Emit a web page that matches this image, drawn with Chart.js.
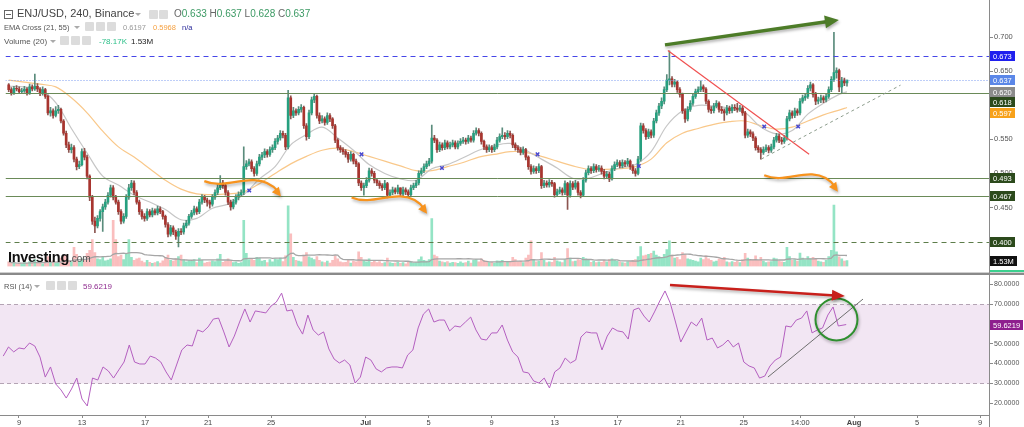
<!DOCTYPE html>
<html><head><meta charset="utf-8">
<script src="https://cdn.jsdelivr.net/npm/chart.js@4.4.1/dist/chart.umd.min.js"></script>
<style>
html,body{margin:0;padding:0;background:#fff;width:1024px;height:427px;overflow:hidden;font-family:"Liberation Sans",Arial,sans-serif;}
canvas{position:absolute;left:0;}
#c1{top:0;}
#c2{top:275px;}
.t{position:absolute;white-space:nowrap;line-height:1;}
.ic{position:absolute;width:9px;height:9px;background:#dcdcdc;border-radius:1px;}
.tri{position:absolute;width:0;height:0;border-left:3px solid transparent;border-right:3px solid transparent;border-top:3px solid #aaa;}
.box{position:absolute;width:7px;height:7px;border:1px solid #666;}
.box:after{content:"";position:absolute;left:1px;top:3px;width:5px;height:1px;background:#666;}
</style></head><body>
<canvas id="c1" width="1024" height="272"></canvas>
<div style="position:absolute;left:0;top:272px;width:1024px;height:1px;background:#cfcfcf"></div>
<div style="position:absolute;left:0;top:273px;width:1024px;height:2px;background:#8a8a8a"></div>
<canvas id="c2" width="1024" height="152"></canvas>
<div style="position:absolute;left:989px;top:0;width:1px;height:427px;background:#8a8a8a"></div>

<div class="box" style="left:4px;top:10px"></div>
<div class="t" style="left:17px;top:8px;font-size:11px;color:#444">ENJ/USD, 240, Binance</div>
<div class="tri" style="left:135px;top:13px"></div>
<div class="ic" style="left:149px;top:10px"></div><div class="ic" style="left:159px;top:10px"></div>
<div class="t" style="left:174px;top:8.5px;font-size:10px;color:#666" id="ohlc"></div>

<div class="t" style="left:4px;top:23.5px;font-size:7.5px;color:#555">EMA Cross (21, 55)</div>
<div class="tri" style="left:74px;top:26px"></div>
<div class="ic" style="left:85px;top:22px"></div><div class="ic" style="left:96px;top:22px"></div><div class="ic" style="left:107px;top:22px"></div>
<div class="t" style="left:123px;top:23.5px;font-size:7.5px;color:#999" id="e21"></div>
<div class="t" style="left:153px;top:23.5px;font-size:7.5px;color:#f5a040" id="e55"></div>
<div class="t" style="left:182px;top:23.5px;font-size:7.5px;color:#2a2a9a">n/a</div>

<div class="t" style="left:4px;top:37.5px;font-size:8px;color:#555">Volume (20)</div>
<div class="tri" style="left:50px;top:40px"></div>
<div class="ic" style="left:60px;top:36px"></div><div class="ic" style="left:71px;top:36px"></div><div class="ic" style="left:82px;top:36px"></div>
<div class="t" style="left:99px;top:37.5px;font-size:8px;color:#2bbf88">-78.17K</div>
<div class="t" style="left:131px;top:37.5px;font-size:8px;color:#222" id="vlast"></div>

<div class="t" style="left:8px;top:250px;font-size:14.5px;font-weight:bold;color:#111;letter-spacing:-0.3px">Investing<span style="font-size:10px;font-weight:normal;color:#555;letter-spacing:0">.com</span></div>

<div class="t" style="left:4px;top:282.5px;font-size:7.5px;color:#555">RSI (14)</div>
<div class="tri" style="left:34px;top:285px"></div>
<div class="ic" style="left:46px;top:281px"></div><div class="ic" style="left:57px;top:281px"></div><div class="ic" style="left:68px;top:281px"></div>
<div class="t" style="left:83px;top:282.5px;font-size:8px;color:#8e2b8e" id="rlast"></div>

<script>
// ---------------- DATA ----------------
const firstOpen = 0.630;
const closes = [
0.623,0.618,0.625,0.624,0.620,0.621,0.624,0.618,0.627,0.624,
0.628,0.624,0.617,0.623,0.613,0.589,0.592,0.585,0.592,0.594,
0.577,0.559,0.542,0.535,0.538,0.521,0.510,0.513,0.532,0.524,
0.496,0.465,0.430,0.423,0.434,0.444,0.451,0.458,0.468,0.479,
0.465,0.458,0.444,0.430,0.437,0.465,0.479,0.486,0.472,0.458,
0.444,0.437,0.434,0.444,0.439,0.445,0.442,0.448,0.444,0.437,
0.425,0.411,0.420,0.414,0.408,0.415,0.414,0.423,0.427,0.437,
0.442,0.448,0.444,0.458,0.465,0.461,0.458,0.455,0.465,0.472,
0.479,0.486,0.482,0.472,0.458,0.451,0.458,0.465,0.469,0.472,
0.510,0.514,0.517,0.507,0.500,0.514,0.524,0.527,0.532,0.528,
0.535,0.538,0.547,0.552,0.559,0.556,0.539,0.611,0.585,0.592,
0.589,0.594,0.597,0.570,0.554,0.589,0.608,0.613,0.585,0.577,
0.580,0.575,0.585,0.580,0.570,0.549,0.538,0.535,0.532,0.528,
0.521,0.528,0.518,0.514,0.486,0.479,0.482,0.490,0.504,0.500,
0.490,0.486,0.482,0.479,0.485,0.468,0.472,0.476,0.473,0.479,
0.470,0.476,0.473,0.469,0.479,0.482,0.486,0.500,0.504,
0.510,0.514,0.518,0.552,0.549,0.535,0.542,0.538,0.545,0.539,
0.542,0.545,0.539,0.544,0.547,0.549,0.547,0.552,0.549,0.559,
0.563,0.559,0.547,0.539,0.535,0.538,0.535,0.539,0.549,0.554,
0.556,0.554,0.559,0.556,0.542,0.538,0.535,0.531,0.535,0.524,
0.510,0.503,0.507,0.504,0.510,0.482,0.486,0.483,0.487,0.485,
0.469,0.473,0.476,0.472,0.485,0.468,0.485,0.480,0.486,0.472,
0.468,0.490,0.501,0.507,0.504,0.510,0.506,0.508,0.503,0.496,
0.499,0.492,0.507,0.513,0.516,0.511,0.516,0.514,0.518,0.510,
0.504,0.500,0.521,0.570,0.563,0.554,0.561,0.556,0.577,0.589,
0.599,0.606,0.623,0.637,0.639,0.631,0.634,0.623,0.616,0.592,
0.580,0.594,0.603,0.613,0.620,0.623,0.627,0.624,0.606,0.594,
0.592,0.599,0.603,0.594,0.592,0.589,0.596,0.592,0.597,0.596,
0.594,0.596,0.589,0.556,0.561,0.558,0.552,0.538,0.535,
0.531,0.535,0.538,0.534,0.539,0.549,0.555,0.549,0.547,0.552,
0.580,0.589,0.585,0.592,0.589,0.606,0.611,0.613,0.625,0.630,
0.616,0.606,0.608,0.611,0.608,0.613,0.623,0.638,0.648,0.651,
0.627,0.637,0.633,0.637];
const highs = [
0.632,0.626,0.628,0.629,0.627,0.625,0.628,0.626,0.631,0.630,
0.646,0.632,0.626,0.627,0.625,0.615,0.597,0.595,0.598,0.600,
0.596,0.579,0.562,0.546,0.543,0.541,0.524,0.518,0.536,0.537,
0.527,0.498,0.468,0.436,0.438,0.447,0.455,0.462,0.472,0.483,
0.482,0.468,0.461,0.447,0.441,0.469,0.484,0.490,0.489,0.475,
0.461,0.447,0.441,0.448,0.447,0.449,0.448,0.452,0.451,0.446,
0.439,0.428,0.424,0.423,0.417,0.419,0.419,0.427,0.431,0.440,
0.446,0.452,0.451,0.462,0.469,0.468,0.464,0.461,0.469,0.476,
0.484,0.497,0.490,0.485,0.475,0.461,0.462,0.469,0.473,0.476,
0.539,0.519,0.521,0.520,0.510,0.518,0.528,0.531,0.536,0.535,
0.539,0.542,0.551,0.556,0.563,0.562,0.559,0.622,0.614,0.597,
0.595,0.598,0.601,0.599,0.573,0.593,0.612,0.617,0.615,0.589,
0.585,0.583,0.589,0.588,0.582,0.572,0.551,0.541,0.538,0.535,
0.531,0.532,0.530,0.521,0.516,0.489,0.486,0.494,0.508,0.507,
0.503,0.493,0.489,0.485,0.490,0.487,0.476,0.480,0.479,0.483,
0.475,0.480,0.479,0.476,0.483,0.486,0.490,0.504,0.508,
0.514,0.518,0.522,0.571,0.556,0.551,0.546,0.545,0.549,0.548,
0.546,0.549,0.548,0.548,0.551,0.553,0.552,0.556,0.555,0.563,
0.567,0.566,0.561,0.549,0.542,0.542,0.541,0.543,0.553,0.558,
0.567,0.560,0.563,0.562,0.558,0.545,0.541,0.538,0.539,0.537,
0.526,0.513,0.511,0.510,0.514,0.512,0.490,0.489,0.491,0.490,
0.487,0.477,0.480,0.479,0.489,0.487,0.489,0.488,0.490,0.488,
0.475,0.494,0.505,0.511,0.510,0.514,0.513,0.512,0.511,0.506,
0.503,0.502,0.511,0.517,0.520,0.519,0.520,0.519,0.522,0.520,
0.513,0.507,0.525,0.574,0.573,0.566,0.565,0.564,0.581,0.593,
0.603,0.611,0.627,0.645,0.680,0.642,0.638,0.636,0.626,0.618,
0.595,0.598,0.607,0.617,0.624,0.627,0.636,0.630,0.626,0.608,
0.598,0.603,0.607,0.605,0.598,0.595,0.600,0.599,0.601,0.601,
0.603,0.600,0.599,0.591,0.565,0.564,0.561,0.554,0.541,
0.538,0.539,0.542,0.541,0.543,0.553,0.559,0.558,0.553,0.556,
0.584,0.593,0.592,0.596,0.595,0.610,0.615,0.617,0.629,0.634,
0.632,0.619,0.612,0.615,0.614,0.617,0.627,0.642,0.707,0.655,
0.653,0.641,0.640,0.637];
const lows = [
0.620,0.615,0.616,0.621,0.617,0.618,0.619,0.615,0.616,0.621,
0.622,0.620,0.614,0.615,0.610,0.586,0.584,0.581,0.583,0.588,
0.574,0.556,0.538,0.531,0.530,0.517,0.505,0.507,0.511,0.520,
0.492,0.460,0.425,0.413,0.420,0.430,0.415,0.447,0.455,0.465,
0.461,0.455,0.440,0.426,0.427,0.434,0.462,0.475,0.469,0.455,
0.440,0.433,0.430,0.431,0.436,0.436,0.439,0.439,0.441,0.433,
0.421,0.407,0.408,0.410,0.403,0.392,0.410,0.411,0.420,0.424,
0.434,0.439,0.440,0.441,0.455,0.457,0.452,0.449,0.452,0.462,
0.469,0.476,0.478,0.468,0.454,0.446,0.448,0.455,0.461,0.466,
0.469,0.506,0.511,0.503,0.496,0.497,0.511,0.520,0.523,0.524,
0.525,0.531,0.535,0.543,0.549,0.552,0.535,0.536,0.580,0.582,
0.585,0.586,0.590,0.566,0.549,0.551,0.586,0.604,0.581,0.573,
0.574,0.571,0.572,0.576,0.566,0.545,0.534,0.531,0.528,0.524,
0.516,0.518,0.514,0.510,0.482,0.475,0.468,0.479,0.487,0.496,
0.486,0.482,0.478,0.475,0.476,0.464,0.465,0.469,0.470,0.470,
0.466,0.467,0.469,0.465,0.466,0.476,0.479,0.483,0.497,
0.501,0.507,0.511,0.515,0.545,0.531,0.532,0.534,0.535,0.536,
0.536,0.539,0.536,0.536,0.541,0.544,0.543,0.544,0.546,0.546,
0.556,0.555,0.543,0.535,0.531,0.532,0.531,0.532,0.536,0.546,
0.551,0.550,0.551,0.552,0.538,0.534,0.531,0.527,0.528,0.520,
0.506,0.499,0.500,0.500,0.501,0.478,0.479,0.480,0.480,0.481,
0.465,0.466,0.470,0.468,0.469,0.447,0.465,0.476,0.477,0.468,
0.464,0.466,0.487,0.498,0.500,0.501,0.502,0.503,0.499,0.492,
0.493,0.488,0.490,0.504,0.510,0.508,0.508,0.510,0.511,0.506,
0.500,0.496,0.498,0.518,0.559,0.550,0.551,0.552,0.553,0.574,
0.585,0.595,0.602,0.620,0.630,0.627,0.627,0.619,0.612,0.588,
0.575,0.577,0.591,0.600,0.610,0.617,0.620,0.620,0.602,0.590,
0.588,0.589,0.596,0.590,0.588,0.578,0.586,0.588,0.589,0.592,
0.590,0.591,0.585,0.552,0.553,0.554,0.548,0.534,0.531,
0.521,0.528,0.532,0.530,0.531,0.536,0.546,0.545,0.543,0.544,
0.549,0.577,0.581,0.582,0.585,0.586,0.603,0.607,0.610,0.621,
0.612,0.601,0.602,0.604,0.604,0.605,0.610,0.620,0.635,0.640,
0.620,0.618,0.629,0.628];
const volumes = [
1.2,0.8,1.0,0.6,0.9,0.7,1.1,0.8,1.3,0.9,
1.8,1.0,1.2,0.7,1.4,2.6,1.1,1.5,0.9,1.0,
2.2,2.8,3.0,1.6,1.3,5.0,3.2,1.4,2.0,1.6,
3.4,4.2,7.0,3.6,2.0,1.8,2.4,1.5,1.7,2.0,
12.0,7.0,2.6,3.0,1.8,3.2,7.0,2.4,1.6,2.0,
2.2,1.4,1.0,1.6,1.1,0.8,1.0,1.3,0.9,1.5,
2.4,3.0,1.6,1.4,2.0,2.6,3.0,1.8,1.2,1.6,
1.4,1.8,1.0,2.2,1.6,0.9,1.1,1.2,1.5,1.3,
2.0,3.2,1.1,1.4,2.0,1.6,1.0,1.2,0.8,1.0,
12.0,3.4,1.8,2.0,1.6,2.4,2.2,1.4,1.6,1.0,
1.8,1.2,2.0,1.8,2.2,1.3,2.8,15.8,8.5,2.4,
1.6,1.4,1.2,3.0,3.6,2.5,2.2,1.8,2.6,1.6,
1.2,1.0,1.4,0.9,1.6,2.8,2.0,1.2,1.0,1.1,
1.6,0.9,1.4,1.2,3.8,2.4,1.6,1.2,2.0,1.1,
1.4,1.0,1.3,0.8,1.0,2.2,1.0,0.8,0.9,1.1,
0.8,1.0,0.7,1.2,1.3,0.9,1.0,1.8,2.5,
1.6,1.4,1.8,12.5,3.0,2.6,1.4,1.2,1.0,1.3,
0.9,1.1,1.0,0.8,1.2,0.9,1.0,1.4,0.9,1.6,
1.8,1.2,2.0,1.6,1.3,1.0,1.1,0.9,1.5,1.4,
1.6,1.0,1.2,1.1,2.4,1.8,1.3,1.4,1.0,2.2,
3.0,6.7,1.8,1.2,1.4,3.6,1.6,1.0,1.2,1.1,
2.4,1.5,1.2,1.0,1.8,4.7,2.2,1.3,1.4,1.8,
1.6,2.4,2.0,1.6,1.1,1.4,1.0,1.2,1.1,1.6,
1.2,1.8,2.0,1.6,1.4,1.2,1.0,0.9,1.3,1.2,
1.6,1.8,2.6,5.2,2.8,3.0,3.2,3.4,4.0,3.0,
2.6,2.4,3.2,4.4,6.7,3.0,2.2,2.4,1.8,3.6,
3.2,2.0,1.8,1.6,1.4,1.2,2.2,1.8,2.8,2.0,
1.6,1.2,1.4,2.0,1.8,2.4,1.2,1.0,1.3,1.1,
1.4,1.0,1.8,3.4,2.2,1.6,1.8,2.8,1.6,
2.4,1.4,1.0,1.2,1.3,2.2,2.0,1.4,1.2,1.1,
5.0,2.6,1.6,1.8,1.4,3.5,2.2,1.8,2.6,2.0,
2.4,2.0,1.4,1.2,1.1,1.6,2.6,4.2,16.0,3.8,
2.5,2.0,1.4,1.53];
// EMA values sampled once per day (every 6 candles) plus the last candle
const ema21 = [0.628,0.627,0.623,0.604,0.566,0.530,0.496,0.483,0.468,0.458,0.447,0.432,0.434,0.449,0.455,0.469,0.492,0.510,0.542,0.557,0.568,0.552,0.534,0.513,0.500,0.492,0.490,0.507,0.513,0.523,0.534,0.541,0.544,0.534,0.521,0.508,0.493,0.493,0.501,0.508,0.513,0.532,0.570,0.592,0.600,0.599,0.596,0.589,0.568,0.558,0.563,0.587,0.603,0.616,0.6197];
const ema55 = [0.637,0.634,0.631,0.627,0.611,0.589,0.562,0.539,0.524,0.507,0.490,0.477,0.470,0.469,0.470,0.473,0.485,0.500,0.514,0.525,0.534,0.537,0.532,0.525,0.518,0.511,0.504,0.504,0.510,0.516,0.524,0.528,0.532,0.531,0.525,0.518,0.511,0.506,0.506,0.507,0.510,0.521,0.545,0.559,0.566,0.572,0.576,0.577,0.570,0.565,0.568,0.577,0.586,0.593,0.5968];
// RSI(14) sampled every 2 candles
const rsi = [
43.7,48.3,45.8,47.8,47.3,50.3,48.8,43.2,33.1,38.2,
29.6,26.6,22.5,27.1,32.6,22.0,18.5,32.6,31.6,38.2,
36.2,32.6,36.7,40.7,49.3,40.7,39.7,39.7,43.7,42.7,
40.7,35.7,31.6,39.2,46.8,49.3,48.8,56.9,55.9,58.4,
62.4,62.9,55.9,48.3,53.8,60.9,67.5,60.9,66.5,66.0,
65.5,69.0,71.0,75.5,66.5,67.0,59.4,54.8,64.4,56.9,
54.3,55.9,47.3,42.2,40.2,41.7,39.2,30.1,33.1,43.2,
41.7,37.2,35.7,37.7,38.2,38.2,37.7,44.2,46.8,
57.9,64.9,67.5,60.9,61.9,61.9,56.4,58.9,58.4,60.9,
63.4,56.9,52.3,51.8,55.4,55.4,59.4,51.8,45.8,43.2,
35.7,35.2,31.1,30.1,32.6,27.6,35.7,37.7,42.7,40.2,
41.7,53.3,55.9,55.4,55.4,46.8,53.8,57.9,56.4,55.9,
52.3,67.0,68.0,63.9,60.9,66.0,71.5,76.6,70.5,60.9,
50.8,55.9,60.9,58.9,62.9,51.8,52.8,47.8,49.3,51.8,
48.3,50.3,40.7,38.7,37.7,32.6,33.6,38.7,41.7,43.2,
58.9,58.4,61.9,62.9,66.5,55.4,56.9,57.9,64.4,68.5,
58.9,59.6219];
const levels = [0.673, 0.618, 0.493, 0.467, 0.400];
const crossIdx = [92.1, 135.1, 165.9, 202.5, 241.3, 289.3, 302.3];
const crossPrice = [0.475, 0.528, 0.508, 0.528, 0.511, 0.569, 0.569];
const priceTicks = [0.40, 0.45, 0.50, 0.55, 0.60, 0.65, 0.70];
const rsiTicks = [20, 30, 40, 50, 60, 70, 80];
const dateTickIdx = [6, 30, 54, 78, 102, 138, 162, 186, 210, 234, 258, 282, 303.5, 324, 348, 372];
const dateTickLabels = ['9','13','17','21','25','Jul','5','9','13','17','21','25','14:00','Aug','5','9'];

// drawings (data coordinates: candle index, price / rsi)
const drawings = {
  redTrend: [[252.4, 0.6803], [306.5, 0.5282]],
  supportTrend: [[288.2, 0.5211], [341.5, 0.6296]],
  greenArrow: [[251.3, 0.6887], [317.9, 0.7254]],
  orangeArrows: [[[74.9, 0.4887], [104.25, 0.4662]], [[131.3, 0.4648], [160.2, 0.4408]], [[289.3, 0.4972], [317.5, 0.4732]]],
  rsiRedArrow: [[253.9, 79.6], [320.5, 74.0]],
  rsiCircle: [317.3, 62.2],
  rsiTrend: [[291.2, 33.1], [327.4, 72.5]]
};

// ---------------- BUILD ----------------
Chart.defaults.font.family = '"Liberation Sans", Arial, sans-serif';
const N = closes.length;
const opens = closes.map((c, i) => i === 0 ? firstOpen : closes[i - 1]);
const up = closes.map((c, i) => c >= opens[i]);
const UP = '#26a07f', DN = '#a8352f';
const wickData = closes.map((c, i) => ({x: i, y: [Math.min(lows[i], opens[i], c), Math.max(highs[i], opens[i], c)]}));
const bodyData = closes.map((c, i) => {
  let lo = Math.min(opens[i], c), hi = Math.max(opens[i], c);
  if (hi - lo < 0.0012) { const m = (hi + lo) / 2; lo = m - 0.0006; hi = m + 0.0006; }
  return {x: i, y: [lo, hi]};
});
const volData = volumes.map((v, i) => ({x: i, y: v}));
const volMA = volumes.map((v, i) => { const s = volumes.slice(Math.max(0, i - 19), i + 1); return {x: i, y: s.reduce((a, b) => a + b, 0) / s.length}; });
const emaX = k => (k < ema21.length - 1 ? k * 6 : N - 1);
const rsiX = k => (k < rsi.length - 1 ? k * 2 : N - 1);

const X_MIN = -1.234, X_MAX = 375.38;
const Y_MIN = 0.3634, Y_MAX = 0.7465;

document.getElementById('ohlc').innerHTML =
  'O<span style="color:#3c9a64">' + opens[N-1].toFixed(3) + '</span> H<span style="color:#3c9a64">' +
  Math.max(highs[N-1], opens[N-1], closes[N-1]).toFixed(3) + '</span> L<span style="color:#3c9a64">' +
  Math.min(lows[N-1], opens[N-1], closes[N-1]).toFixed(3) + '</span> C<span style="color:#3c9a64">' + closes[N-1].toFixed(3) + '</span>';
document.getElementById('e21').textContent = ema21[ema21.length-1].toFixed(4);
document.getElementById('e55').textContent = ema55[ema55.length-1].toFixed(4);
document.getElementById('vlast').textContent = volumes[N-1].toFixed(2) + 'M';
document.getElementById('rlast').textContent = rsi[rsi.length-1].toFixed(4);

function tag(ctx, yc, text, bg, w) {
  ctx.fillStyle = bg;
  ctx.fillRect(990, Math.round(yc - 5), w, 10);
  ctx.fillStyle = '#fff';
  ctx.font = '7.5px "Liberation Sans", Arial, sans-serif';
  ctx.textBaseline = 'middle'; ctx.textAlign = 'left';
  ctx.fillText(text, 993, Math.round(yc - 5) + 5.5);
}
function arrowHead(ctx, fx, fy, tx, ty, len, wid, color) {
  const a = Math.atan2(ty - fy, tx - fx);
  ctx.fillStyle = color;
  ctx.beginPath();
  ctx.moveTo(tx, ty);
  ctx.lineTo(tx - len * Math.cos(a) + wid / 2 * Math.sin(a), ty - len * Math.sin(a) - wid / 2 * Math.cos(a));
  ctx.lineTo(tx - len * Math.cos(a) - wid / 2 * Math.sin(a), ty - len * Math.sin(a) + wid / 2 * Math.cos(a));
  ctx.closePath(); ctx.fill();
}

const mainOverlay = {
  id: 'mainOverlay',
  afterDatasetsDraw(chart) {
    const {ctx, chartArea: a, scales: {x, y}} = chart;
    const P = pt => [x.getPixelForValue(pt[0]), y.getPixelForValue(pt[1])];
    ctx.save();
    ctx.beginPath(); ctx.rect(a.left, a.top, a.right - a.left, a.bottom - a.top); ctx.clip();
    levels.forEach((v, k) => {
      const py = Math.round(y.getPixelForValue(v)) + 0.5;
      ctx.beginPath();
      if (k === 0) { ctx.strokeStyle = '#4646e8'; ctx.setLineDash([5, 4]); }
      else if (v === 0.400) { ctx.strokeStyle = '#5d7d4a'; ctx.setLineDash([5, 4]); }
      else { ctx.strokeStyle = '#6a8a58'; ctx.setLineDash([]); }
      ctx.lineWidth = 1;
      ctx.moveTo(a.left, py); ctx.lineTo(a.right, py); ctx.stroke();
    });
    const lp = Math.round(y.getPixelForValue(closes[N-1])) + 0.5;
    ctx.strokeStyle = '#7d9cf0'; ctx.setLineDash([1, 2]);
    ctx.beginPath(); ctx.moveTo(a.left, lp); ctx.lineTo(a.right, lp); ctx.stroke();
    ctx.setLineDash([]);
    let p0 = P(drawings.redTrend[0]), p1 = P(drawings.redTrend[1]);
    ctx.strokeStyle = '#f05050'; ctx.lineWidth = 1.2;
    ctx.beginPath(); ctx.moveTo(p0[0], p0[1]); ctx.lineTo(p1[0], p1[1]); ctx.stroke();
    p0 = P(drawings.supportTrend[0]); p1 = P(drawings.supportTrend[1]);
    ctx.strokeStyle = '#8c9c8c'; ctx.lineWidth = 1; ctx.setLineDash([3, 3]);
    ctx.beginPath(); ctx.moveTo(p0[0], p0[1]); ctx.lineTo(p1[0], p1[1]); ctx.stroke();
    ctx.setLineDash([]);
    p0 = P(drawings.greenArrow[0]); p1 = P(drawings.greenArrow[1]);
    ctx.shadowColor = 'rgba(0,0,0,0.3)'; ctx.shadowBlur = 3; ctx.shadowOffsetX = 1; ctx.shadowOffsetY = 2;
    const ga = Math.atan2(p1[1] - p0[1], p1[0] - p0[0]);
    ctx.strokeStyle = '#4d7c28'; ctx.lineWidth = 3.5;
    ctx.beginPath(); ctx.moveTo(p0[0], p0[1]); ctx.lineTo(p1[0] - 11 * Math.cos(ga), p1[1] - 11 * Math.sin(ga)); ctx.stroke();
    arrowHead(ctx, p0[0], p0[1], p1[0], p1[1], 14, 13, '#4d7c28');
    drawings.orangeArrows.forEach(arr => {
      const s = P(arr[0]), e = P(arr[1]);
      const w = e[0] - s[0];
      ctx.strokeStyle = '#f7931e'; ctx.lineWidth = 2.2;
      ctx.beginPath();
      ctx.moveTo(s[0], s[1]);
      ctx.bezierCurveTo(s[0] + 0.22 * w, s[1] + 7, s[0] + 0.45 * w, s[1] - 2, s[0] + 0.65 * w, s[1] - 1);
      ctx.quadraticCurveTo(s[0] + 0.86 * w, s[1], e[0] - 3, e[1] - 5);
      ctx.stroke();
      arrowHead(ctx, s[0] + 0.86 * w, s[1] + 2, e[0], e[1], 9, 9, '#f7931e');
    });
    ctx.restore();
  },
  afterDraw(chart) {
    const {ctx, scales: {y, yv}} = chart;
    ctx.save();
    const grp = [
      {v: closes[N-1], bg: '#5b87e8'},
      {v: ema21[ema21.length-1], bg: '#8c8c8c'},
      {v: levels[1], bg: '#2c4a1c'},
      {v: ema55[ema55.length-1], bg: '#f7a11a'}
    ].map(o => ({...o, py: y.getPixelForValue(o.v)})).sort((a, b) => a.py - b.py);
    for (let i = 1; i < grp.length; i++) if (grp[i].py < grp[i-1].py + 10.5) grp[i].py = grp[i-1].py + 10.5;
    tag(ctx, y.getPixelForValue(levels[0]), levels[0].toFixed(3), '#1f1fee', 25);
    grp.forEach(o => tag(ctx, o.py, o.v.toFixed(3), o.bg, 25));
    [levels[2], levels[3], levels[4]].forEach(v => tag(ctx, y.getPixelForValue(v), v.toFixed(3), '#2c4a1c', 25));
    ctx.fillStyle = '#3ccf8e'; ctx.fillRect(990, 270, 34, 2);
    tag(ctx, yv.getPixelForValue(volumes[N-1]), volumes[N-1].toFixed(2) + 'M', '#111', 27);
    ctx.restore();
  }
};

new Chart(document.getElementById('c1'), {
  type: 'bar',
  data: {datasets: [
    {type: 'scatter', data: crossIdx.map((n, k) => ({x: n, y: crossPrice[k]})), pointStyle: 'crossRot', pointRadius: 2.5, borderColor: '#4a4ad0', backgroundColor: '#4a4ad0', borderWidth: 1.5, order: 0},
    {type: 'bar', data: bodyData, backgroundColor: up.map(u => u ? UP : DN), barThickness: 2, grouped: false, order: 1, yAxisID: 'y'},
    {type: 'bar', data: wickData, backgroundColor: up.map(u => u ? '#5a8c7c' : '#8c5550'), barThickness: 1, grouped: false, order: 2, yAxisID: 'y'},
    {type: 'line', data: ema21.map((v, k) => ({x: emaX(k), y: v})), borderColor: '#c6c6c6', borderWidth: 1.2, pointRadius: 0, tension: 0.35, order: 3, yAxisID: 'y'},
    {type: 'line', data: ema55.map((v, k) => ({x: emaX(k), y: v})), borderColor: '#f9c88a', borderWidth: 1.2, pointRadius: 0, tension: 0.35, order: 4, yAxisID: 'y'},
    {type: 'line', data: volMA, borderColor: '#a6a6a6', borderWidth: 1.3, pointRadius: 0, order: 5, yAxisID: 'yv'},
    {type: 'bar', data: volData, backgroundColor: up.map(u => u ? 'rgba(60,205,150,0.55)' : 'rgba(245,125,125,0.5)'), barThickness: 2, grouped: false, order: 6, yAxisID: 'yv'}
  ]},
  options: {
    responsive: false, animation: false, devicePixelRatio: 1,
    layout: {padding: 0},
    plugins: {legend: {display: false}, tooltip: {enabled: false}},
    scales: {
      x: {type: 'linear', min: X_MIN, max: X_MAX, display: false, offset: false},
      y: {type: 'linear', position: 'right', min: Y_MIN, max: Y_MAX,
          afterBuildTicks: s => { s.ticks = priceTicks.map(v => ({value: v})); },
          ticks: {callback: v => Number(v).toFixed(3), font: {size: 7.5}, color: '#555', padding: 1},
          grid: {drawOnChartArea: false, tickLength: 4, color: '#8a8a8a'},
          border: {display: false},
          afterFit: s => { s.width = 35; s.paddingTop = 0; s.paddingBottom = 0; }},
      yv: {type: 'linear', display: false, min: 0, max: 68}
    }
  },
  plugins: [mainOverlay]
});

const rsiOverlay = {
  id: 'rsiOverlay',
  beforeDatasetsDraw(chart) {
    const {ctx, chartArea: a, scales: {y}} = chart;
    const y70 = Math.round(y.getPixelForValue(70)) + 0.5, y30 = Math.round(y.getPixelForValue(30)) + 0.5;
    ctx.save();
    ctx.fillStyle = '#f2e6f3';
    ctx.fillRect(a.left, y70, a.right - a.left, y30 - y70);
    ctx.strokeStyle = '#b4a4b4'; ctx.lineWidth = 1; ctx.setLineDash([4, 3]);
    [y70, y30].forEach(py => { ctx.beginPath(); ctx.moveTo(a.left, py); ctx.lineTo(a.right, py); ctx.stroke(); });
    ctx.restore();
  },
  afterDatasetsDraw(chart) {
    const {ctx, scales: {x, y}} = chart;
    const P = pt => [x.getPixelForValue(pt[0]), y.getPixelForValue(pt[1])];
    ctx.save();
    let p0 = P(drawings.rsiTrend[0]), p1 = P(drawings.rsiTrend[1]);
    ctx.strokeStyle = '#6f6f6f'; ctx.lineWidth = 1;
    ctx.beginPath(); ctx.moveTo(p0[0], p0[1]); ctx.lineTo(p1[0], p1[1]); ctx.stroke();
    ctx.shadowColor = 'rgba(0,0,0,0.3)'; ctx.shadowBlur = 3; ctx.shadowOffsetX = 1; ctx.shadowOffsetY = 2;
    const c = P(drawings.rsiCircle);
    ctx.strokeStyle = '#2f8f2f'; ctx.lineWidth = 2;
    ctx.beginPath(); ctx.arc(c[0], c[1], 21, 0, Math.PI * 2); ctx.stroke();
    p0 = P(drawings.rsiRedArrow[0]); p1 = P(drawings.rsiRedArrow[1]);
    const ra = Math.atan2(p1[1] - p0[1], p1[0] - p0[0]);
    ctx.strokeStyle = '#c8201b'; ctx.lineWidth = 2.5;
    ctx.beginPath(); ctx.moveTo(p0[0], p0[1]); ctx.lineTo(p1[0] - 10 * Math.cos(ra), p1[1] - 10 * Math.sin(ra)); ctx.stroke();
    arrowHead(ctx, p0[0], p0[1], p1[0], p1[1], 13, 11, '#c8201b');
    ctx.restore();
  },
  afterDraw(chart) {
    const {ctx, scales: {y}} = chart;
    ctx.save();
    tag(ctx, y.getPixelForValue(rsi[rsi.length-1]), rsi[rsi.length-1].toFixed(4), '#8e1f8e', 33);
    ctx.restore();
  }
};

new Chart(document.getElementById('c2'), {
  type: 'line',
  data: {datasets: [
    {data: rsi.map((v, k) => ({x: rsiX(k), y: v})), borderColor: '#b45fc0', borderWidth: 1, pointRadius: 0, tension: 0}
  ]},
  options: {
    responsive: false, animation: false, devicePixelRatio: 1,
    layout: {padding: {top: 2, left: 0, right: 0, bottom: 0}},
    plugins: {legend: {display: false}, tooltip: {enabled: false}},
    scales: {
      x: {type: 'linear', min: X_MIN, max: X_MAX,
          afterBuildTicks: s => { s.ticks = dateTickIdx.map(v => ({value: v})); },
          ticks: {autoSkip: false, maxRotation: 0, callback: (v, i) => dateTickLabels[i],
                  font: ctx => ({size: 7.5, weight: (dateTickLabels[ctx.index] === 'Jul' || dateTickLabels[ctx.index] === 'Aug') ? 'bold' : 'normal'}),
                  color: '#444', padding: 0},
          grid: {drawOnChartArea: false, tickLength: 3, color: '#8a8a8a'},
          border: {display: true, color: '#8a8a8a'},
          afterFit: s => { s.height = 12; s.paddingLeft = 0; s.paddingRight = 0; }},
      y: {type: 'linear', position: 'right', min: 13.94, max: 83.64,
          afterBuildTicks: s => { s.ticks = rsiTicks.map(v => ({value: v})); },
          ticks: {callback: v => Number(v).toFixed(4), font: {size: 7}, color: '#555', padding: 1},
          grid: {drawOnChartArea: false, tickLength: 4, color: '#8a8a8a'},
          border: {display: false},
          afterFit: s => { s.width = 35; s.paddingTop = 0; s.paddingBottom = 0; }}
    }
  },
  plugins: [rsiOverlay]
});
</script>
</body></html>
